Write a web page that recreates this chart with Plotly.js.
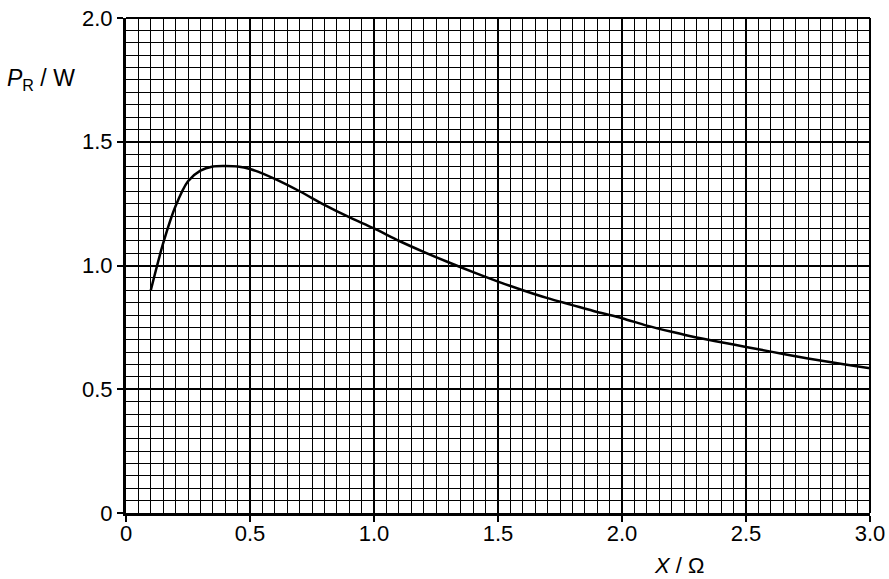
<!DOCTYPE html>
<html>
<head>
<meta charset="utf-8">
<script src="https://cdn.plot.ly/plotly-3.0.1.min.js"></script>
<style>
html,body{margin:0;padding:0;background:#fff;}
#chart{width:889px;height:579px;}
.gridlayer path, .minor-gridlayer path {shape-rendering: crispEdges !important;}
</style>
</head>
<body>
<div id="chart"></div>
<script>
// Data
const xValues = [0.10, 0.15, 0.20, 0.25, 0.30, 0.35, 0.40, 0.45, 0.50, 0.60, 0.70, 0.80, 0.90, 1.00, 1.10, 1.20, 1.30, 1.40, 1.50, 1.60, 1.70, 1.80, 1.90, 2.00, 2.10, 2.20, 2.30, 2.40, 2.50, 2.60, 2.70, 2.80, 2.90, 3.00];
const yValues = [0.90, 1.09, 1.24, 1.34, 1.383, 1.40, 1.402, 1.40, 1.39, 1.35, 1.30, 1.245, 1.195, 1.15, 1.10, 1.055, 1.013, 0.973, 0.935, 0.900, 0.868, 0.840, 0.812, 0.787, 0.757, 0.732, 0.709, 0.690, 0.671, 0.652, 0.633, 0.616, 0.600, 0.585];
const xTickVals = [0, 0.5, 1.0, 1.5, 2.0, 2.5, 3.0];
const xTickText = ["0", "0.5", "1.0", "1.5", "2.0", "2.5", "3.0"];
const yTickVals = [0, 0.5, 1.0, 1.5, 2.0];
const yTickText = ["0", "0.5", "1.0", "1.5", "2.0"];

function mkFont() { return {family: "Liberation Sans, Arial, sans-serif", size: 22, color: "#000"}; }

const trace = {
  x: xValues, y: yValues, type: "scatter", mode: "lines",
  line: {color: "#000", width: 2.5, shape: "spline", smoothing: 0.8},
  hoverinfo: "skip", showlegend: false
};

function axisBase(tv, tt, range) {
  return {
    range: range, tickmode: "array", tickvals: tv, ticktext: tt,
    showgrid: true, gridcolor: "#000", gridwidth: 2,
    minor: {dtick: 0.05, tick0: 0, showgrid: true, gridcolor: "#000", gridwidth: 1, ticks: ""},
    showline: true, linecolor: "#000", linewidth: 3,
    ticks: "outside", ticklen: 6, tickwidth: 2, tickcolor: "#000",
    zeroline: false, tickfont: mkFont(), fixedrange: true
  };
}

const layout = {
  width: 889, height: 579,
  margin: {l: 126, r: 19, t: 18, b: 66},
  paper_bgcolor: "#fff", plot_bgcolor: "#fff",
  xaxis: Object.assign(axisBase(xTickVals, xTickText, [0, 3.0]), {ticklabelstandoff: -7}),
  yaxis: axisBase(yTickVals, yTickText, [0, 2.0]),
  annotations: [
    {text: "<i>P</i><sub>R</sub> / W", xref: "paper", yref: "paper", x: -0.163, y: 0.875, xanchor: "left", yanchor: "middle", showarrow: false, font: Object.assign(mkFont(), {size: 23})},
    {text: "<i>X</i> / Ω", xref: "paper", yref: "paper", x: 0.743, y: -0.107, xanchor: "center", yanchor: "middle", showarrow: false, font: mkFont()}
  ],
  shapes: [
    {type: "line", xref: "paper", yref: "paper", x0: 0, x1: 1, y0: 1, y1: 1, line: {color: "#000", width: 2}},
    {type: "line", xref: "paper", yref: "paper", x0: 1, x1: 1, y0: 0, y1: 1, line: {color: "#000", width: 2}}
  ]
};

Plotly.newPlot("chart", [trace], layout, {displayModeBar: false, staticPlot: true});
</script>
</body>
</html>
